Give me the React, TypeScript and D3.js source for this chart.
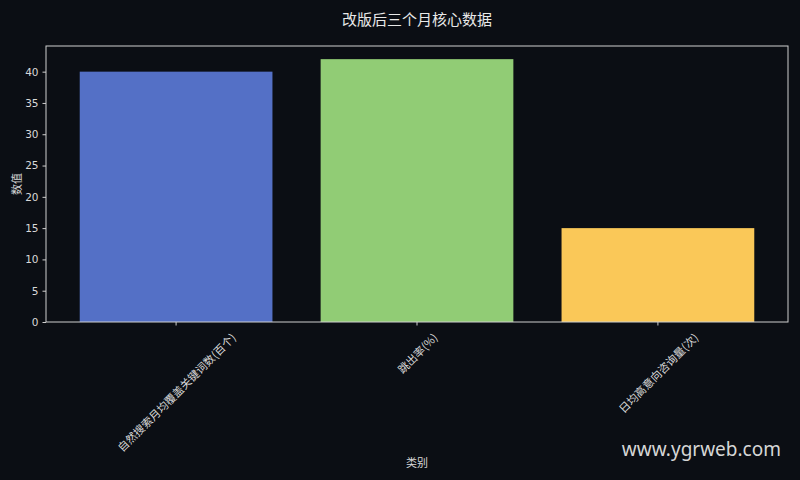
import React, { useEffect, useRef } from 'react';
import * as d3 from 'd3';

const categories = ['自然搜索月均覆盖关键词数(百个)', '跳出率(%)', '日均高意向咨询量(次)'];
const values = [40, 42, 15];
const barColors = ['#5470c6', '#91cc75', '#fac858'];
const yTicks = [0, 5, 10, 15, 20, 25, 30, 35, 40];

const W = 800;
const H = 480;
const margin = { top: 46, right: 12, bottom: 158, left: 46 };
const BG = '#0b0e14';
const TXT = '#d9d9d9';
const FONT = '"Noto Sans CJK SC", "DejaVu Sans", sans-serif';

const App: React.FC = () => {
  const svgRef = useRef<SVGSVGElement>(null);

  useEffect(() => {
    if (!svgRef.current) return;
    d3.select(svgRef.current).selectAll('*').remove();

    const svg = d3.select(svgRef.current)
      .attr('width', W)
      .attr('height', H)
      .style('font-family', FONT);

    svg.append('rect').attr('width', W).attr('height', H).attr('fill', BG);

    const x0 = margin.left;
    const x1 = W - margin.right;
    const y0 = H - margin.bottom;
    const y1 = margin.top;

    // matplotlib-style limits: bars of width 0.8 with 5% margins
    const xScale = d3.scaleLinear().domain([-0.54, categories.length - 1 + 0.54]).range([x0, x1]);
    const yScale = d3.scaleLinear().domain([0, (d3.max(values) || 0) * 1.05]).range([y0, y1]);
    const bw = xScale(0.8) - xScale(0);

    // Bars
    svg.selectAll('.bar')
      .data(values)
      .enter()
      .append('rect')
      .attr('class', 'bar')
      .attr('x', (_, i) => xScale(i) - bw / 2)
      .attr('y', d => yScale(d))
      .attr('width', bw)
      .attr('height', d => y0 - yScale(d))
      .attr('fill', (_, i) => barColors[i]);

    // Frame
    svg.append('rect')
      .attr('x', x0).attr('y', y1)
      .attr('width', x1 - x0).attr('height', y0 - y1)
      .attr('fill', 'none')
      .attr('stroke', '#cfcfcf')
      .attr('stroke-width', 1);

    // Y axis
    const yAxis = svg.append('g')
      .attr('transform', `translate(${x0},0)`)
      .call(d3.axisLeft(yScale).tickValues(yTicks).tickSize(3.5).tickPadding(4));
    yAxis.select('.domain').remove();
    yAxis.selectAll('line').attr('stroke', '#cfcfcf');
    yAxis.selectAll('text').attr('fill', TXT).style('font-size', '10.5px').style('font-family', '"DejaVu Sans", sans-serif');

    // X axis ticks
    svg.selectAll('.xtick')
      .data(categories)
      .enter()
      .append('line')
      .attr('x1', (_, i) => xScale(i)).attr('x2', (_, i) => xScale(i))
      .attr('y1', y0).attr('y2', y0 + 3.5)
      .attr('stroke', '#cfcfcf');

    // X labels rotated 45°, centred under tick
    const labels = svg.selectAll('.xlabel')
      .data(categories)
      .enter()
      .append('text')
      .attr('class', 'xlabel')
      .attr('text-anchor', 'middle')
      .attr('dominant-baseline', 'central')
      .attr('fill', TXT)
      .style('font-size', '11px')
      .text(d => d);
    labels.each(function (_, i) {
      const len = (this as SVGTextElement).getComputedTextLength();
      const h = (len + 11) / Math.SQRT2;
      d3.select(this).attr('transform', `translate(${xScale(i)},${y0 + 9 + h / 2}) rotate(-45)`);
    });

    // Axis titles
    svg.append('text')
      .attr('transform', `translate(16,${(y0 + y1) / 2}) rotate(-90)`)
      .attr('text-anchor', 'middle')
      .attr('dominant-baseline', 'central')
      .attr('fill', TXT)
      .style('font-size', '11px')
      .text('数值');

    svg.append('text')
      .attr('x', (x0 + x1) / 2)
      .attr('y', 462)
      .attr('text-anchor', 'middle')
      .attr('dominant-baseline', 'central')
      .attr('fill', TXT)
      .style('font-size', '11px')
      .text('类别');

    // Title
    svg.append('text')
      .attr('x', (x0 + x1) / 2)
      .attr('y', 18)
      .attr('text-anchor', 'middle')
      .attr('dominant-baseline', 'central')
      .attr('fill', '#e8e8e8')
      .style('font-size', '15px')
      .text('改版后三个月核心数据');

    // Watermark
    svg.append('text')
      .attr('x', 781)
      .attr('y', 456)
      .attr('text-anchor', 'end')
      .attr('fill', '#d6d6d6')
      .style('font-size', '19px')
      .style('font-family', '"Noto Sans", "Open Sans", sans-serif')
      .text('www.ygrweb.com');
  }, []);

  return (
    <div style={{ position: 'fixed', left: 0, top: 0, width: W, height: H, background: BG }}>
      <svg ref={svgRef} style={{ display: 'block' }}></svg>
    </div>
  );
};

export default App;
